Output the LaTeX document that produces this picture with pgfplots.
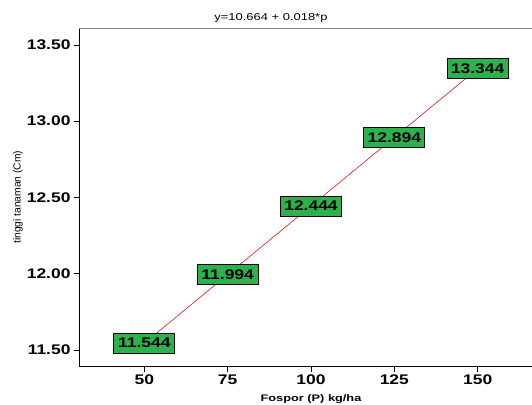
\documentclass[border=0pt]{standalone}
\usepackage{fontspec}
\setmainfont{Liberation Sans}
\newfontfamily\tickfont[FakeStretch=1.25]{Liberation Sans}
\newfontfamily\boxfont[FakeStretch=1.25]{Liberation Sans}
\newfontfamily\titlefont[FakeStretch=1.3]{Liberation Sans}
\newfontfamily\xlabfont[FakeStretch=1.35]{Liberation Sans}
\usepackage{pgfplots}
\pgfplotsset{compat=1.18}
\definecolor{boxgreen}{RGB}{43,178,76}
\definecolor{linered}{RGB}{230,20,20}
\begin{document}
\begin{tikzpicture}
\useasboundingbox (-79bp,-38.3bp) rectangle (453bp,366.7bp);
\begin{axis}[
  scale only axis,
  width=453bp, height=338.7bp,
  xmin=30.4, xmax=166.3,
  ymin=11.390, ymax=13.611,
  axis lines=left,
  axis line style={black, line width=0.8bp, -},
  xtick={50,75,100,125,150},
  ytick={11.5,12,12.5,13,13.5},
  tick align=outside,
  major tick length=5bp,
  tick style={black, line width=0.6bp},
  /pgf/number format/assume math mode=true,
  ticklabel style={font=\tickfont\bfseries\fontsize{14}{16}\selectfont},
  yticklabel style={/pgf/number format/.cd, fixed, fixed zerofill, precision=2},
  xticklabel style={/pgf/number format/.cd, fixed, precision=0},
  xlabel={Fospor (P) kg/ha},
  ylabel={tinggi tanaman (Cm)},
  xlabel style={font=\xlabfont\bfseries\fontsize{9.5}{11}\selectfont, at={(axis description cs:0.5121,-0.0954)}, anchor=center},
  ylabel style={font=\fontsize{10.3}{12}\selectfont, at={(axis description cs:-0.1347,0.5)}, anchor=center, rotate=0},
  every axis title shift=0pt,
  title={y=10.664 + 0.018*p},
  title style={font=\titlefont\fontsize{10}{12}\selectfont, at={(axis description cs:0.4238,1.0295)}, anchor=center},
  clip=false,
]
\draw[gray, line width=0.8bp] (rel axis cs:0,1) -- (rel axis cs:1,1);
\addplot[linered, line width=0.6bp,
  nodes near coords,
  point meta=explicit symbolic,
  every node near coord/.style={anchor=center, fill=boxgreen, draw=black, line width=0.7bp,
     minimum width=61bp, minimum height=20bp, inner sep=0pt,
     font=\boxfont\bfseries\fontsize{14}{16}\selectfont, text=black},
] table[meta=lab] {
x y lab
50 11.544 11.544
75 11.994 11.994
100 12.444 12.444
125 12.894 12.894
150 13.344 13.344
};
\end{axis}
\end{tikzpicture}
\end{document}
